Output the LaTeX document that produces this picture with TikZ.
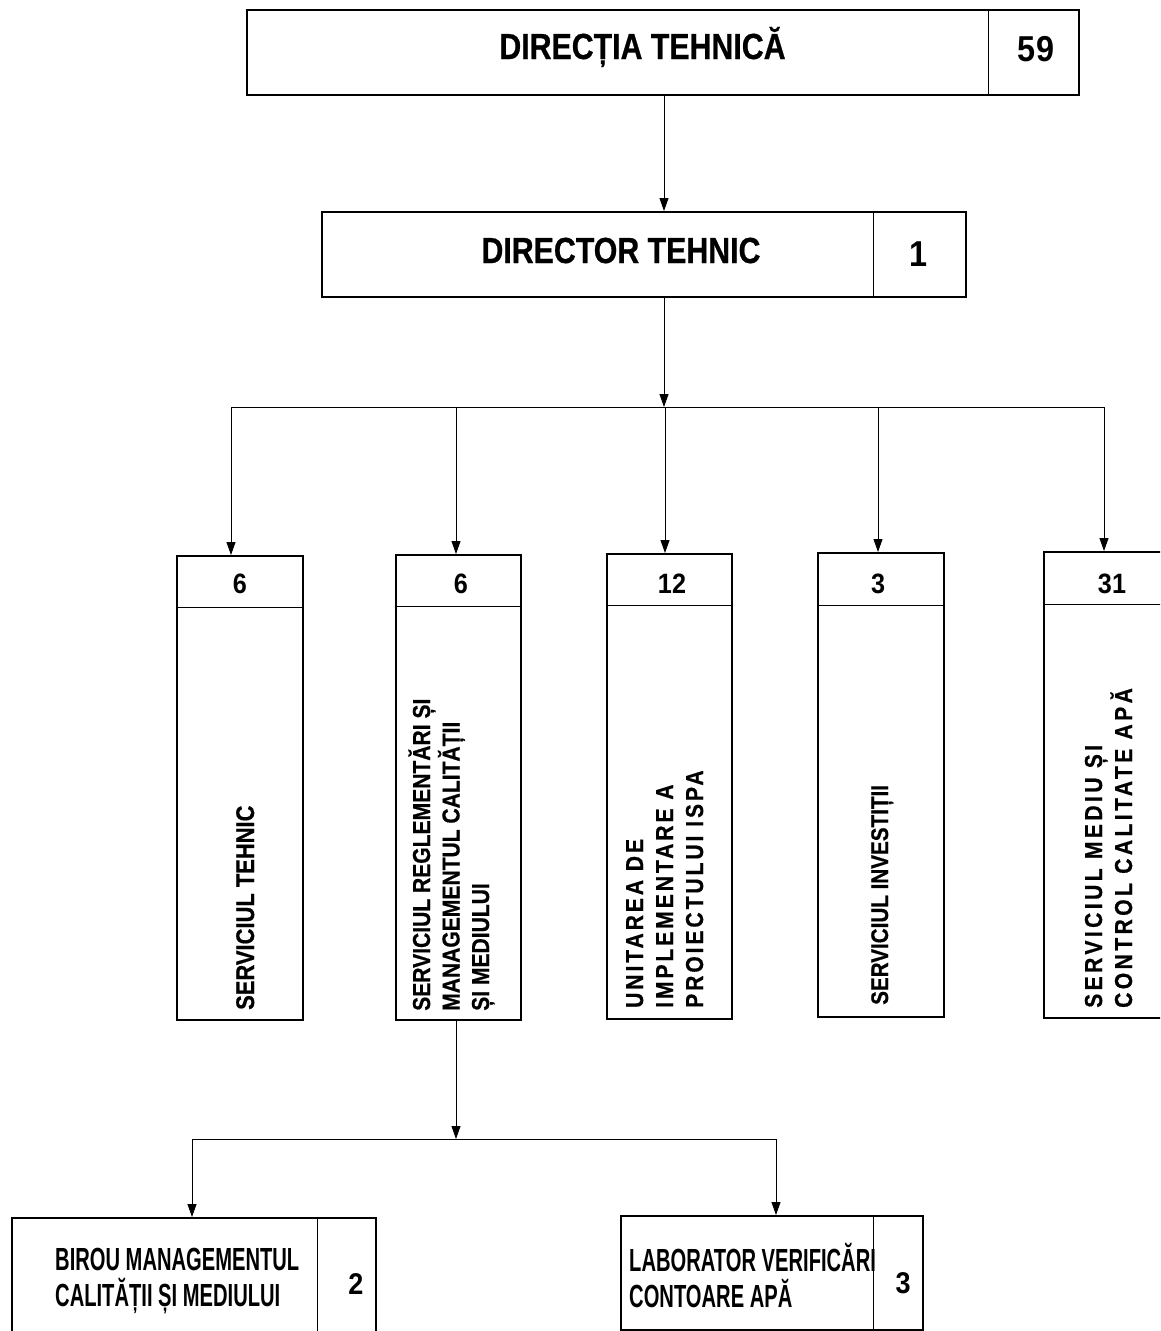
\documentclass[tikz,border=0pt]{standalone}
\usepackage{fontspec}
\setmainfont{Liberation Sans}
\newfontfamily\fttitle{Liberation Sans}[FakeStretch=0.835, FakeBold=0.6]
\newfontfamily\ftcond{Liberation Sans}[FakeStretch=0.63]
\newfontfamily\ftnum{Liberation Sans}[FakeStretch=0.9]
\newfontfamily\ftvert{Liberation Sans}[FakeStretch=0.86, FakeBold=0.6]
\newfontfamily\ftspA{Liberation Sans}[FakeStretch=0.86, FakeBold=0.6, LetterSpace=12]
\newfontfamily\ftspB{Liberation Sans}[FakeStretch=0.86, FakeBold=0.6, LetterSpace=14]
\usetikzlibrary{arrows.meta}
\begin{document}
\begin{tikzpicture}[x=1pt,y=-1pt,
  box/.style={draw, line width=1.5pt, inner sep=0pt, anchor=north west},
  divider/.style={line width=0.8pt},
  conn/.style={line width=0.9pt},
  arr/.style={conn, -{Triangle[length=13pt,width=9pt]}},
  title/.style={font=\fttitle\bfseries\fontsize{36.3}{40}\selectfont, inner sep=0pt, anchor=base},
  bignum/.style={font=\ftnum\bfseries\fontsize{36}{40}\selectfont, inner sep=0pt, anchor=base},
  headnum/.style={font=\ftnum\bfseries\fontsize{28}{32}\selectfont, inner sep=0pt, anchor=base},
  smallnum/.style={font=\ftnum\bfseries\fontsize{30}{34}\selectfont, inner sep=0pt, anchor=base},
  vtext/.style={rotate=90, anchor=base west, inner sep=0pt, align=left},
  condtext/.style={font=\ftcond\bfseries\fontsize{32}{36}\selectfont, inner sep=0pt, anchor=base west, align=left}
]
\useasboundingbox (0,0) rectangle (1160,1331);
\clip (0,0) rectangle (1160,1331);
\fill[white] (0,0) rectangle (1160,1331);

% Top box
\node[box, minimum width=832pt, minimum height=85pt] (dt) at (246,9) {};
\draw[divider] (988,9) -- (988,94);
\node[title] (dtT) at (642.5,59) {DIRECȚIA TEHNICĂ};
\node[bignum] (dtN) at (1036,61) {59};

% Director
\node[box, minimum width=644pt, minimum height=85pt] (dir) at (321,211) {};
\draw[divider] (873,211) -- (873,296);
\node[title] (dirT) at (621,263) {DIRECTOR TEHNIC};
\node[bignum] (dirN) at (919,266) {1};

\draw[arr] (dt.south -| 664,0) -- (dir.north -| 664,0);

% Bus 1
\coordinate (bus) at (664,407);
\coordinate (busL) at (231,407);
\coordinate (busR) at (1104,407);
\draw[arr] (dir.south -| 664,0) -- (bus);
\draw[conn] (busL) -- (busR);

% Five columns
\node[box, minimum width=126pt, minimum height=464pt] (b1) at (176,555) {};
\node[box, minimum width=125pt, minimum height=465pt] (b2) at (395,554) {};
\node[box, minimum width=125pt, minimum height=465pt] (b3) at (606,553) {};
\node[box, minimum width=126pt, minimum height=464pt] (b4) at (817,552) {};
\node[box, minimum width=130pt, minimum height=466pt] (b5) at (1043,551) {};
\draw[divider] (176,607) -- (302,607);
\draw[divider] (395,606) -- (520,606);
\draw[divider] (606,605) -- (731,605);
\draw[divider] (817,605) -- (943,605);
\draw[divider] (1043,604) -- (1173,604);

\draw[arr] (busL) -- (b1.north -| busL);
\draw[arr] (456,407) -- (b2.north -| 456,0);
\draw[arr] (665,407) -- (b3.north -| 665,0);
\draw[arr] (878,407) -- (b4.north -| 878,0);
\draw[arr] (busR) -- (b5.north -| busR);

\node[headnum] (n1) at (240,593) {6};
\node[headnum] (n2) at (461,593) {6};
\node[headnum] (n3) at (672,593) {12};
\node[headnum] (n4) at (878,593) {3};
\node[headnum] (n5) at (1112,593) {31};

\node[vtext, font=\ftvert\bfseries\fontsize{25.5}{30}\selectfont] (t1) at (254,1010) {SERVICIUL TEHNIC};
\node[vtext, font=\ftvert\bfseries\fontsize{24.5}{29.5}\selectfont] (t2) at (489,1011) {SERVICIUL REGLEMENTĂRI ȘI\\MANAGEMENTUL CALITĂȚII\\ȘI MEDIULUI};
\node[vtext, font=\ftspA\bfseries\fontsize{24.5}{30}\selectfont] (t3) at (703,1008) {UNITAREA DE\\IMPLEMENTARE A\\PROIECTULUI ISPA};
\node[vtext, font=\ftvert\bfseries\fontsize{24}{29.5}\selectfont] (t4) at (888,1005) {SERVICIUL INVESTIȚII};
\node[vtext, font=\ftspB\bfseries\fontsize{24.5}{30}\selectfont] (t5) at (1132,1008) {SERVICIUL MEDIU ȘI\\CONTROL CALITATE APĂ};

% Bus 2
\coordinate (bus2) at (456,1139);
\coordinate (bus2L) at (192,1139);
\coordinate (bus2R) at (776,1139);
\draw[arr] (b2.south -| 456,0) -- (bus2);
\draw[conn] (bus2L) -- (bus2R);

\node[box, minimum width=364pt, minimum height=120pt] (bl) at (11,1217) {};
\draw[divider] (317,1217) -- (317,1337);
\node[box, minimum width=302pt, minimum height=114pt] (br) at (620,1215) {};
\draw[divider] (873,1215) -- (873,1329);

\draw[arr] (bus2L) -- (bl.north -| bus2L);
\draw[arr] (bus2R) -- (br.north -| bus2R);

\node[condtext] (blT) at (55,1306) {BIROU MANAGEMENTUL\\CALITĂȚII ȘI MEDIULUI};
\node[smallnum] (blN) at (356,1294) {2};
\node[condtext] (brT) at (629,1307) {LABORATOR VERIFICĂRI\\CONTOARE APĂ};
\node[smallnum] (brN) at (903,1293) {3};
\end{tikzpicture}
\end{document}
